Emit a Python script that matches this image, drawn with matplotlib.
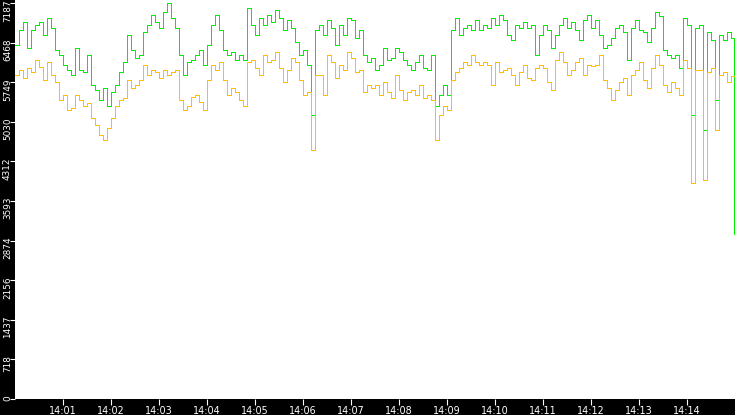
import numpy as np
import matplotlib
matplotlib.use("Agg")
import matplotlib.pyplot as plt
import matplotlib.transforms as mtransforms

# samples every 5 s starting 14:00:00
STEP = 5

green = [6420, 6700, 6840, 6370, 6700, 6790, 6840, 6600, 6910, 6730, 6330, 6240, 6060, 5970, 5880,
         6370, 5970, 5930, 6240, 5700, 5610, 5430, 5640, 5320, 5570, 5700, 5930, 6120, 6600, 6330,
         6190, 6240, 6660, 6790, 6970, 6840, 6730, 7020, 7190, 6910, 6730, 6240, 5880, 6120, 6150,
         6240, 6330, 6060, 6420, 6790, 6970, 6700, 6330, 6240, 6300, 6150, 6240, 6150, 7100, 6790,
         6600, 6910, 6790, 6970, 6840, 7060, 6910, 6700, 6880, 6730, 6480, 6240, 6330, 6060, 5150,
         6700, 6790, 6600, 6880, 6730, 6420, 6790, 6600, 6910, 6880, 6550, 6700, 6240, 6120, 6190,
         5970, 6060, 6370, 6150, 6190, 6370, 6300, 6150, 6060, 5970, 6120, 6240, 6010, 5970, 6240,
         5320, 5520, 5700, 5520, 6700, 6910, 6600, 6730, 6790, 6700, 6880, 6700, 6790, 6730, 6910,
         6790, 6970, 6880, 6600, 6510, 6790, 6730, 6840, 6730, 6790, 6240, 6600, 6790, 6700, 6370,
         6600, 6790, 6910, 6730, 6840, 6700, 6510, 6880, 6970, 6730, 6880, 6600, 6370, 6420, 6550,
         6730, 6790, 6660, 6150, 6730, 6880, 6700, 6660, 6480, 6730, 7020, 6950, 6330, 6240, 6190,
         6240, 6010, 6910, 6790, 5150, 6730, 6790, 4880, 6660, 6510, 5430, 6600, 6510, 6660, 6550]

yellow = [5880, 5970, 5830, 6010, 5930, 6150, 6020, 5790, 6120, 5880, 5750, 5430, 5520, 5240, 5280,
          5520, 5430, 5320, 5370, 5100, 4970, 4790, 4700, 4920, 5100, 5320, 5430, 5460, 5790, 5640,
          5700, 5790, 6060, 5880, 5970, 5930, 5830, 5970, 5880, 5930, 5970, 5430, 5240, 5320, 5480,
          5520, 5390, 5240, 5790, 6060, 5970, 6120, 5790, 5520, 5640, 5570, 5430, 5320, 6120, 6150,
          6010, 5880, 6240, 6120, 6150, 6300, 6010, 5750, 5970, 6190, 6120, 5790, 5520, 5570, 4520,
          5880, 5880, 5520, 6240, 6120, 5830, 6060, 5970, 6300, 6190, 5930, 5970, 5570, 5700, 5640,
          5700, 5520, 5750, 5570, 5460, 5880, 5610, 5430, 5570, 5610, 5520, 5700, 5460, 5520, 5430,
          4700, 5150, 5320, 5240, 5790, 5930, 6010, 6120, 6060, 6240, 6120, 6060, 6120, 6060, 5700,
          6120, 5930, 5970, 6010, 5880, 5700, 5930, 6060, 5830, 5790, 6010, 6060, 6010, 5750, 5610,
          6150, 6300, 6120, 5880, 5970, 6120, 6190, 5880, 6060, 6040, 6060, 6240, 5790, 5640, 5430,
          5610, 5750, 5830, 5520, 5880, 5970, 6120, 5790, 5640, 6010, 6240, 6060, 5700, 5570, 5750,
          5640, 5520, 6150, 6010, 3920, 5970, 5970, 3970, 5930, 6010, 4880, 5880, 5930, 5750, 5860]

# last partial sample right at the end of the window
green_last = (898.6, 3000)
yellow_last = (899.6, 0)

y_ticks = [0, 718, 1437, 2156, 2874, 3593, 4312, 5030, 5749, 6468, 7187]
x_ticks = [60 * k for k in range(1, 15)]
x_labels = ["14:%02d" % k for k in range(1, 15)]

GREEN = "#00ee00"
YELLOW = "#ffbf00"

fig = plt.figure(figsize=(7.35, 4.15), dpi=100, facecolor="black")
W, H = 735.0, 415.0
ax = fig.add_axes([15 / W, 16 / H, 720 / W, 399 / H])
ax.set_facecolor("white")

t = np.arange(len(green)) * STEP
gt = np.append(t, green_last[0])
gv = np.append(green, green_last[1])
yt = np.append(t, yellow_last[0])
yv = np.append(yellow, yellow_last[1])

ax.plot(gt, gv, drawstyle="steps-post", color=GREEN, lw=0.5, antialiased=False, zorder=2)
ax.plot(yt, yv, drawstyle="steps-post", color=YELLOW, lw=0.5, antialiased=False, zorder=3)

ax.set_xlim(0, 900)
ax.set_ylim(0, 7240)
for s in ax.spines.values():
    s.set_visible(False)

ax.set_xticks(x_ticks)
ax.set_xticklabels(x_labels)
ax.tick_params(axis="x", colors="white", direction="out", length=4.5, width=0.8,
               pad=0.5, labelsize=6.9)

ax.set_yticks(y_ticks)
ax.set_yticklabels([])
ax.tick_params(axis="y", colors="white", direction="out", length=3.6, width=0.8)

# rotated y labels sitting mostly below their tick
trans = mtransforms.blended_transform_factory(fig.transFigure, ax.transData)
trans = trans + mtransforms.ScaledTranslation(0, 4 / 100.0, fig.dpi_scale_trans)
for v in y_ticks:
    ax.text(7.5 / W, v, str(v), transform=trans, rotation=90, ha="center", va="top",
            color="white", fontsize=6.4, clip_on=False)

fig.savefig("out.png", dpi=100, facecolor="black")
